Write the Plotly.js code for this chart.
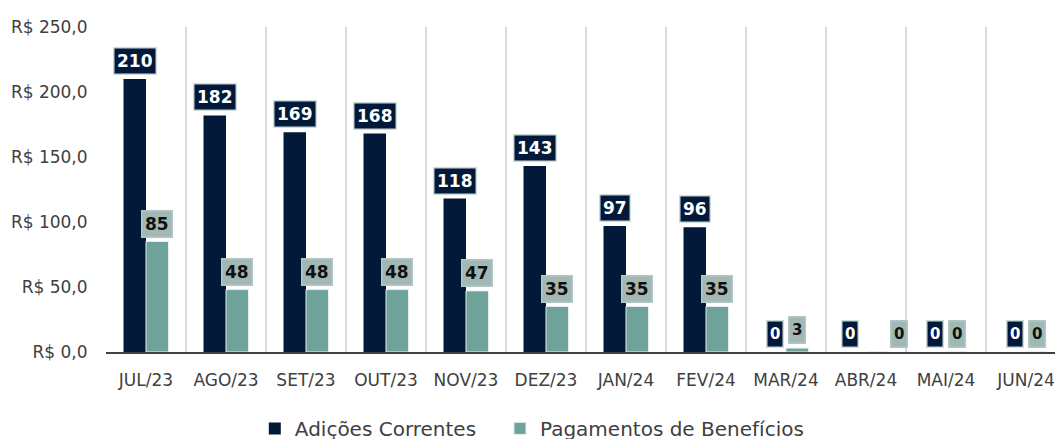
<!DOCTYPE html>
<html><head><meta charset="utf-8">
<script src="https://cdn.plot.ly/plotly-3.0.1.min.js"></script>
<style>html,body{margin:0;padding:0;overflow:hidden;background:#fff}</style>
</head><body><div id="chart"></div>
<script>
const categories = ["JUL/23","AGO/23","SET/23","OUT/23","NOV/23","DEZ/23","JAN/24","FEV/24","MAR/24","ABR/24","MAI/24","JUN/24"];
const adicoesCorrentes = [210,182,169,168,118,143,97,96,0,0,0,0];
const pagamentosBeneficios = [85,48,48,48,47,35,35,35,3,0,0,0];
const seriesNames = ["Adições Correntes","Pagamentos de Benefícios"];
const yTickVals = [0,50,100,150,200,250];
const yTickText = yTickVals.map(v => "R$ " + v.toFixed(1).replace(".", ","));

const FONT = "DejaVu Sans";
const DARK = "#03193a";
const TEAL = "#6fa298";
const TEAL_LABEL = "#a2b8b5";
const GRAY = "#404040";

const traces = [
  {type:'bar', x:categories, y:adicoesCorrentes, name:seriesNames[0],
   marker:{color:DARK}, legend:'legend'},
  {type:'bar', x:categories, y:pagamentosBeneficios, name:seriesNames[1],
   marker:{color:TEAL, line:{color:'#e4eeec', width:1}}, legend:'legend2'}
];

const off = 11.25;
const nudge = {"ABR/24":[-5, 22]};
const annotations = [];
categories.forEach((c,i)=>{
  const n = nudge[c] || [0,0];
  [adicoesCorrentes[i], pagamentosBeneficios[i]].forEach((v,k)=>{
    const small = v < 5;
    annotations.push({
      x:c, y:v, xref:'x', yref:'y', text:String(v), showarrow:false,
      xanchor:'center', yanchor:'bottom',
      xshift:(k===0?-off:off)+n[k], yshift:4,
      height:20,
      bgcolor: k===0?DARK:TEAL_LABEL,
      bordercolor: k===0?'#cddcd9':'#b4c6c3',
      borderwidth:1.5, borderpad:2.5,
      font:{family:FONT, size: small?15:17, color:k===0?'#ffffff':'#111111', weight:'bold'}
    });
  });
});

const legendCommon = {orientation:'h', xanchor:'left', yanchor:'top', y:-0.175,
  font:{family:FONT, size:20, color:GRAY}, bgcolor:'rgba(0,0,0,0)', borderwidth:0};

const layout = {
  width:1070, height:439,
  margin:{l:106, r:4, t:27, b:87, autoexpand:false},
  paper_bgcolor:'#ffffff', plot_bgcolor:'#ffffff',
  barmode:'group', bargap:0.4375, bargroupgap:0,
  font:{family:FONT, color:GRAY},
  showlegend:true,
  legend:Object.assign({}, legendCommon, {x:0.155}),
  legend2:Object.assign({}, legendCommon, {x:0.4104}),
  xaxis:{type:'category', tickson:'boundaries', showgrid:true, gridcolor:'#d9d9d9', gridwidth:2,
         showline:true, linecolor:GRAY, linewidth:2, ticks:'', ticklabelstandoff:12,
         tickfont:{family:FONT, size:17, color:GRAY}, fixedrange:true},
  yaxis:{range:[0,250], tickvals:yTickVals, ticktext:yTickText,
         showgrid:false, zeroline:false, showline:false, ticks:'outside', ticklen:14,
         tickcolor:'rgba(0,0,0,0)', tickfont:{family:FONT, size:17, color:GRAY}, fixedrange:true},
  annotations:annotations
};

Plotly.newPlot('chart', traces, layout, {displayModeBar:false, staticPlot:true});
</script>
</body></html>
